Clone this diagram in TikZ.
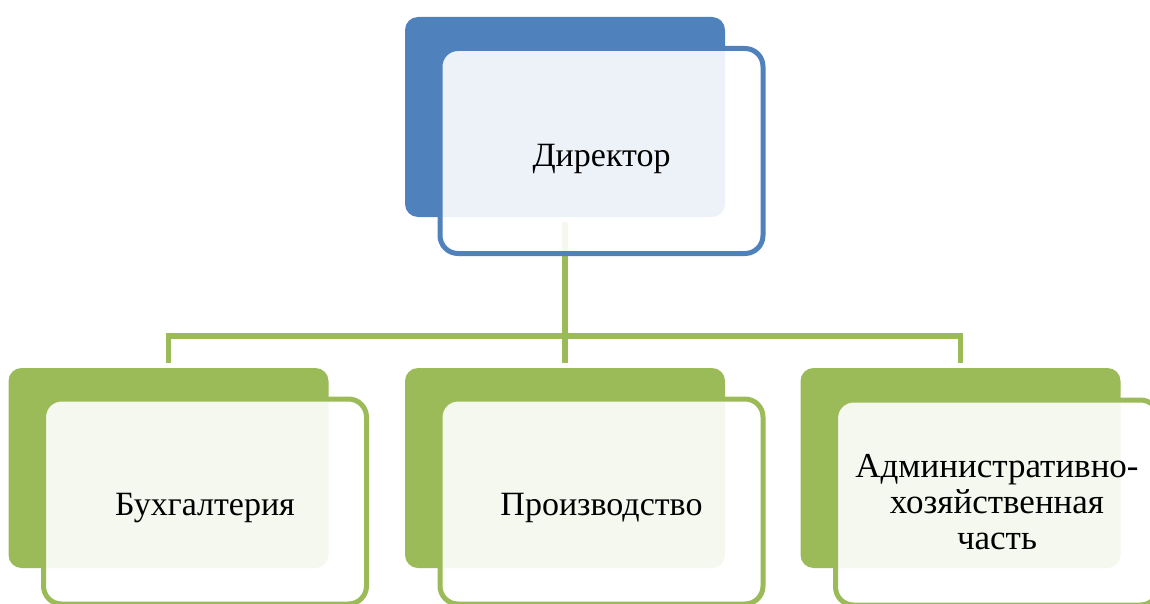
\documentclass[tikz,border=0pt]{standalone}
\usepackage{fontspec}
\setmainfont{Liberation Serif}
\usetikzlibrary{positioning}
\definecolor{chiefblue}{HTML}{4F81BD}
\definecolor{deptgreen}{HTML}{9BBB59}
\tikzset{
  backbox/.style={minimum width=320pt, minimum height=200pt, inner sep=0pt,
    rounded corners=13pt, fill=#1},
  frontbox/.style={minimum width=323pt, minimum height=205pt, inner sep=0pt,
    rounded corners=18pt, draw=#1, line width=5pt, fill=white,
    fill opacity=0.9, text opacity=1, align=center,
    font=\fontsize{34}{36}\selectfont},
  oneline/.style={text height=#1, text depth=0pt},
  link/.style={draw=deptgreen, line width=5.5pt, shorten <=5pt, shorten >=5pt}
}

\begin{document}
\begin{tikzpicture}[x=1pt,y=-1pt]
	%%%%% FRAME %%%%%
	\useasboundingbox (0,0) rectangle (1150,604);
	
	%%%%% BACK BOXES %%%%%
	\node[backbox=chiefblue] (dirback) at (565, 117) {};
	\node[backbox=deptgreen] (accback) at (168.5, 468) {};
	\node[backbox=deptgreen] (prodback) at (565, 468) {};
	\node[backbox=deptgreen] (admback) at (960.5, 468) {};
	
	%%%%% LINKS %%%%%
	\draw[link] (dirback.south) -- ++(0, 119) -| (accback.north);
	\draw[link] (dirback.south) -- (prodback.north);
	\draw[link] (dirback.south) -- ++(0, 119) -| (admback.north);
	
	%%%%% FRONT BOXES %%%%%
	\node[frontbox=chiefblue, oneline=31pt] (dir)
		at ([xshift=36.5pt, yshift=-34pt]dirback.center) {Директор};
	\node[frontbox=deptgreen, oneline=27pt] (acc)
		at ([xshift=36.5pt, yshift=-33.5pt]accback.center) {Бухгалтерия};
	\node[frontbox=deptgreen, oneline=27pt] (prod)
		at ([xshift=36.5pt, yshift=-33.5pt]prodback.center) {Производство};
	\node[frontbox=deptgreen, font=\fontsize{35}{36}\selectfont] (adm)
		at ([xshift=36.5pt, yshift=-34.5pt]admback.center)
		{Административно-\\хозяйственная\\часть};
\end{tikzpicture}
\end{document}
